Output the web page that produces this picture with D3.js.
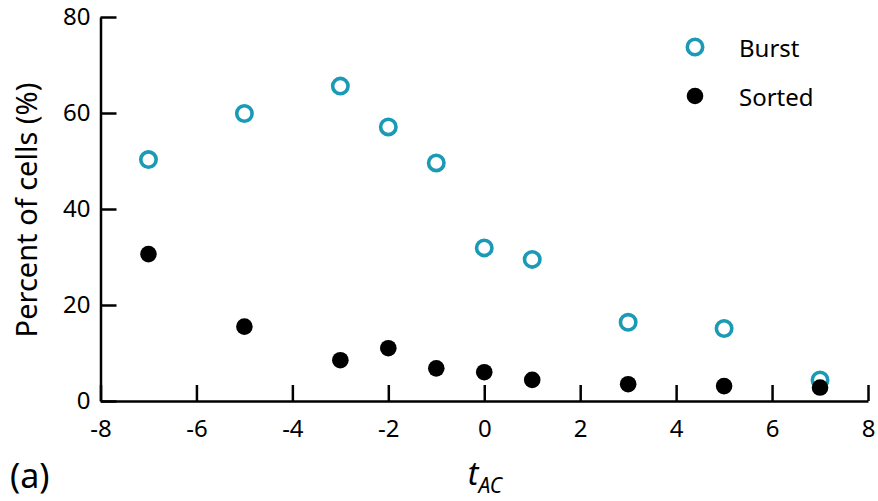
<!DOCTYPE html>
<html>
<head>
<meta charset="utf-8">
<script src="https://cdn.jsdelivr.net/npm/d3@7"></script>
<style>
  body { margin: 0; background: #fff; }
  svg { display: block; font-family: "Noto Sans", "Open Sans", sans-serif; }
</style>
</head>
<body>
<svg id="chart" width="878" height="501"></svg>
<script>
"use strict";

// data
var tValues = [-7, -5, -3, -2, -1, 0, 1, 3, 5, 7];
var burst   = [50.3, 59.9, 65.6, 57.1, 49.6, 31.9, 29.5, 16.4, 15.1, 4.4];
var sorted  = [30.6, 15.5, 8.5, 11.0, 6.8, 6.0, 4.4, 3.5, 3.1, 2.8];
var xTicks  = [-8, -6, -4, -2, 0, 2, 4, 6, 8];
var yTicks  = [0, 20, 40, 60, 80];
var seriesNames = ["Burst", "Sorted"];

var TEAL = "#1a9ab4";

var svg = d3.select("#chart");

var x = d3.scaleLinear().domain([-8, 8]).range([100.5, 868]);
var y = d3.scaleLinear().domain([0, 80]).range([401, 17]);

//
//	axes, ticks pointing inward
//
var gx = svg.append("g")
	.attr("transform", "translate(0," + y(0) + ")")
	.call(d3.axisBottom(x).tickValues(xTicks).tickSizeInner(-16).tickSizeOuter(0)
		.tickFormat(function(d){ return d < 0 ? "-" + Math.abs(d) : d; }));

var gy = svg.append("g")
	.attr("transform", "translate(" + x(-8) + ",0)")
	.call(d3.axisLeft(y).tickValues(yTicks).tickSizeInner(-16).tickSizeOuter(0));

[gx, gy].forEach(function(g){
	g.select(".domain").attr("stroke", "#000").attr("stroke-width", 2.5);
	g.selectAll(".tick line").attr("stroke", "#000").attr("stroke-width", 2.5);
	g.selectAll(".tick text").attr("fill", "#000").style("font-size", "24px")
		.style("font-family", "'Noto Sans', 'Open Sans', sans-serif");
});
gx.selectAll(".tick text").attr("y", 0).attr("dy", 0).attr("transform", "translate(0,36)");
gy.selectAll(".tick text").attr("x", -10);

//
//	points
//
svg.append("g").selectAll("circle")
	.data(tValues.map(function(t, i){ return {t: t, v: burst[i]}; }))
	.join("circle")
	.attr("cx", function(d){ return x(d.t); })
	.attr("cy", function(d){ return y(d.v); })
	.attr("r", 7.7)
	.attr("fill", "none")
	.attr("stroke", TEAL)
	.attr("stroke-width", 3.6);

svg.append("g").selectAll("circle")
	.data(tValues.map(function(t, i){ return {t: t, v: sorted[i]}; }))
	.join("circle")
	.attr("cx", function(d){ return x(d.t); })
	.attr("cy", function(d){ return y(d.v); })
	.attr("r", 8.3)
	.attr("fill", "#000");

//
//	legend
//
var legend = svg.append("g");
seriesNames.forEach(function(name, i){
	var ly = 47 + i * 49;
	if(i == 0){
		legend.append("circle").attr("cx", 695).attr("cy", ly).attr("r", 7.7)
			.attr("fill", "none").attr("stroke", TEAL).attr("stroke-width", 3.6);
	}else{
		legend.append("circle").attr("cx", 695).attr("cy", ly).attr("r", 8.3).attr("fill", "#000");
	}
	legend.append("text").attr("x", 739).attr("y", ly + 10)
		.style("font-size", "24px").attr("fill", "#000").text(name);
});

//
//	axis titles
//
svg.append("text")
	.attr("transform", "translate(37,210) rotate(-90)")
	.attr("text-anchor", "middle")
	.style("font-size", "29px")
	.text("Percent of cells (%)");

var xl = svg.append("text")
	.attr("x", 485).attr("y", 485)
	.attr("text-anchor", "middle")
	.style("font-style", "italic");
xl.append("tspan").style("font-size", "32px").text("t");
xl.append("tspan").style("font-size", "21px").attr("dy", 8).text("AC");

svg.append("text")
	.attr("x", 10).attr("y", 488)
	.style("font-size", "34px")
	.text("(a)");
</script>
</body>
</html>
